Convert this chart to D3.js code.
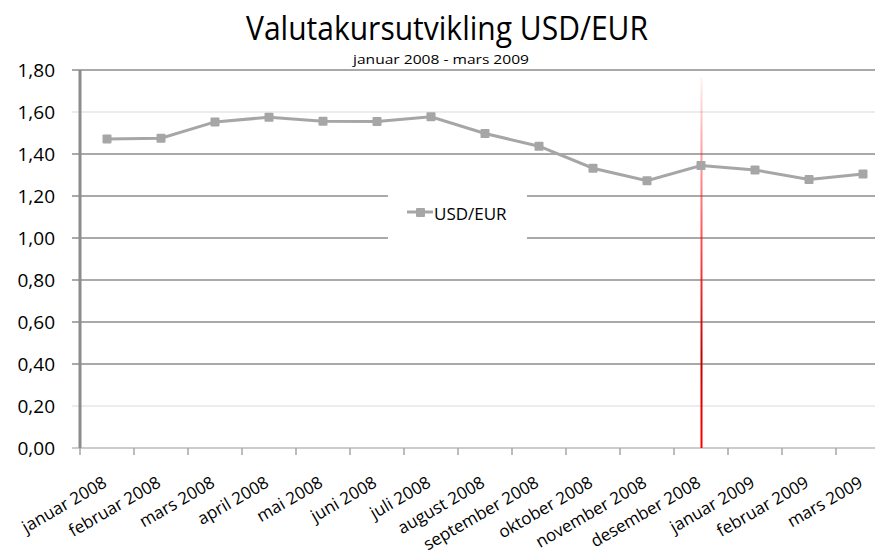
<!DOCTYPE html>
<html>
<head>
<meta charset="utf-8">
<script src="https://cdn.jsdelivr.net/npm/d3@7/dist/d3.min.js"></script>
<style>
  html, body { margin: 0; padding: 0; background: #fff; }
  svg { display: block; font-family: "Open Sans", sans-serif; }
</style>
</head>
<body>
<svg id="chart" width="875" height="553"></svg>
<script>
// Monthly USD/EUR exchange rate, January 2008 - March 2009
const months = [
  "januar 2008", "februar 2008", "mars 2008", "april 2008", "mai 2008",
  "juni 2008", "juli 2008", "august 2008", "september 2008", "oktober 2008",
  "november 2008", "desember 2008", "januar 2009", "februar 2009", "mars 2009"
];
const usdEur = [
  1.4718, 1.4748, 1.5527, 1.5750, 1.5557,
  1.5553, 1.5770, 1.4975, 1.4370, 1.3322,
  1.2732, 1.3449, 1.3239, 1.2785, 1.3050
];
const yTicks = [0, 0.2, 0.4, 0.6, 0.8, 1.0, 1.2, 1.4, 1.6, 1.8];
const markerMonth = "desember 2008";
const seriesName = "USD/EUR";
const titleText = "Valutakursutvikling USD/EUR";
const subtitleText = "januar 2008 - mars 2009";

const svg = d3.select("#chart");
const plotLeft = 80, plotRight = 890, plotTop = 70, plotBottom = 448;

const x = d3.scalePoint().domain(months).range([plotLeft, plotRight]).padding(0.5);
const step = x.step();
const y = d3.scaleLinear().domain([0, 1.8]).range([plotBottom, plotTop]);
const fmt = v => d3.format(".2f")(v).replace(".", ",");

// Title and subtitle
svg.append("text")
  .attr("x", 447).attr("y", 40)
  .attr("text-anchor", "middle")
  .attr("font-size", 32)
  .attr("textLength", 402).attr("lengthAdjust", "spacingAndGlyphs")
  .attr("fill", "#000")
  .text(titleText);
svg.append("text")
  .attr("x", 441).attr("y", 64)
  .attr("text-anchor", "middle")
  .attr("font-size", 13)
  .attr("textLength", 176).attr("lengthAdjust", "spacingAndGlyphs")
  .attr("fill", "#000")
  .text(subtitleText);

// Horizontal gridlines
const lightLines = new Set([1.6, 0.2]);
svg.append("g").selectAll("line")
  .data(yTicks.filter(d => d > 0))
  .join("line")
  .attr("x1", plotLeft - 8).attr("x2", 875)
  .attr("y1", d => y(d)).attr("y2", d => y(d))
  .attr("stroke", d => lightLines.has(d) ? "#d9d9d9" : "#8c8c8c")
  .attr("stroke-width", d => lightLines.has(d) ? 1 : 1.6);

// Y tick labels
svg.append("g").selectAll("text")
  .data(yTicks)
  .join("text")
  .attr("x", 55).attr("y", d => y(d))
  .attr("text-anchor", "end")
  .attr("dominant-baseline", "central")
  .attr("font-size", 19)
  .attr("fill", "#000")
  .text(fmt);

// X axis line and category boundary ticks
svg.append("line")
  .attr("x1", plotLeft - 8).attr("x2", 875)
  .attr("y1", plotBottom).attr("y2", plotBottom)
  .attr("stroke", "#9a9a9a").attr("stroke-width", 1.2);
svg.append("g").selectAll("line")
  .data(d3.range(months.length + 1))
  .join("line")
  .attr("x1", i => plotLeft + i * step).attr("x2", i => plotLeft + i * step)
  .attr("y1", plotBottom).attr("y2", plotBottom + 7)
  .attr("stroke", "#a6a6a6").attr("stroke-width", 1.5);

// Y axis line
svg.append("line")
  .attr("x1", plotLeft).attr("x2", plotLeft)
  .attr("y1", plotTop).attr("y2", plotBottom)
  .attr("stroke", "#8c8c8c").attr("stroke-width", 3);

// X labels, rotated
svg.append("g").selectAll("text")
  .data(months)
  .join("text")
  .attr("transform", d => `translate(${x(d) + 1},${plotBottom + 38}) rotate(-30)`)
  .attr("text-anchor", "end")
  .attr("font-size", 17)
  .attr("fill", "#000")
  .text(d => d);

// Red vertical marker line fading upwards
const defs = svg.append("defs");
const grad = defs.append("linearGradient")
  .attr("id", "redFade")
  .attr("gradientUnits", "userSpaceOnUse")
  .attr("x1", 0).attr("x2", 0)
  .attr("y1", 78).attr("y2", plotBottom);
grad.append("stop").attr("offset", 0).attr("stop-color", "#ff0000").attr("stop-opacity", 0.05);
grad.append("stop").attr("offset", 0.15).attr("stop-color", "#ff0000").attr("stop-opacity", 0.3);
grad.append("stop").attr("offset", 0.45).attr("stop-color", "#ff0000").attr("stop-opacity", 0.7);
grad.append("stop").attr("offset", 0.75).attr("stop-color", "#c00000").attr("stop-opacity", 1);
grad.append("stop").attr("offset", 1).attr("stop-color", "#ff0000").attr("stop-opacity", 1);
svg.append("rect")
  .attr("x", x(markerMonth) - 0.5).attr("y", 78)
  .attr("width", 2).attr("height", plotBottom - 78)
  .attr("fill", "url(#redFade)");

// Series line and square markers
const data = months.map((m, i) => ({ m, v: usdEur[i] }));
svg.append("path")
  .datum(data)
  .attr("fill", "none")
  .attr("stroke", "#a6a6a6")
  .attr("stroke-width", 3)
  .attr("d", d3.line().x(d => x(d.m)).y(d => y(d.v)));
svg.append("g").selectAll("rect")
  .data(data)
  .join("rect")
  .attr("x", d => x(d.m) - 4.5).attr("y", d => y(d.v) - 4.5)
  .attr("width", 9).attr("height", 9)
  .attr("rx", 1)
  .attr("fill", "#a6a6a6");

// Legend
const lg = svg.append("g");
lg.append("rect")
  .attr("x", 388).attr("y", 188).attr("width", 139).attr("height", 56)
  .attr("fill", "#fff");
lg.append("line")
  .attr("x1", 407).attr("x2", 433).attr("y1", 212).attr("y2", 212)
  .attr("stroke", "#a6a6a6").attr("stroke-width", 3);
lg.append("rect")
  .attr("x", 416).attr("y", 208).attr("width", 9).attr("height", 9)
  .attr("rx", 1).attr("fill", "#a6a6a6");
lg.append("text")
  .attr("x", 434).attr("y", 213)
  .attr("dominant-baseline", "central")
  .attr("font-size", 17)
  .attr("fill", "#000")
  .text(seriesName);
</script>
</body>
</html>
